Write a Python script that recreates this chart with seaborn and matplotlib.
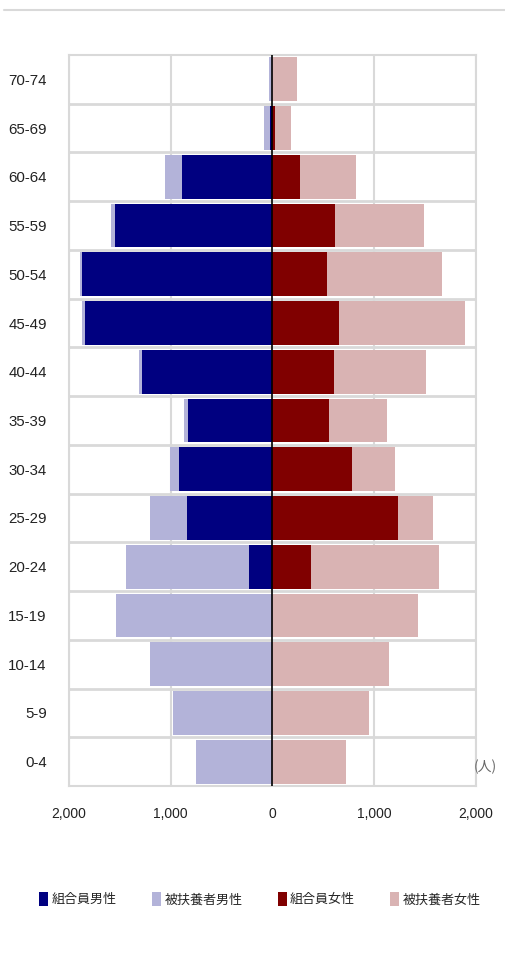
import matplotlib
matplotlib.use("Agg")
import matplotlib.pyplot as plt
import seaborn as sns
import pandas as pd
import numpy as np
from matplotlib.patches import Patch

age_groups = ["70-74", "65-69", "60-64", "55-59", "50-54", "45-49", "40-44",
              "35-39", "30-34", "25-29", "20-24", "15-19", "10-14", "5-9", "0-4"]
member_male = [0, 27, 885, 1551, 1869, 1846, 1285, 833, 915, 839, 233, 0, 0, 0, 0]
dependent_male = [33, 58, 171, 39, 26, 26, 26, 33, 88, 364, 1206, 1534, 1207, 974, 754]
member_female = [0, 22, 275, 613, 534, 656, 603, 554, 780, 1233, 377, 0, 0, 0, 0]
dependent_female = [239, 161, 545, 872, 1132, 1233, 905, 571, 423, 344, 1262, 1433, 1144, 944, 721]
legend_labels = ["組合員男性", "被扶養者男性", "組合員女性", "被扶養者女性"]
x_ticks = [-2000, -1000, 0, 1000, 2000]
unit_label = "(人)"

c_mm, c_dm, c_mf, c_df = "#000080", "#B3B3D9", "#800000", "#D9B3B3"

df = pd.DataFrame({
    "age": age_groups,
    "male_total": -(np.array(member_male) + np.array(dependent_male)),
    "male_member": -np.array(member_male),
    "female_total": np.array(member_female) + np.array(dependent_female),
    "female_member": np.array(member_female),
})

sns.set_style("white")
plt.rcParams["font.family"] = ["Noto Sans CJK JP", "DejaVu Sans"]
num_font = ["Liberation Sans", "DejaVu Sans"]

fig = plt.figure(figsize=(5.06, 9.55), dpi=100)
ax = fig.add_axes([69/506, 1 - 786/955, (476-69)/506, (786-55)/955])

kw = dict(data=df, y="age", orient="h", width=0.9, ax=ax, linewidth=0,
          order=age_groups, saturation=1)
sns.barplot(x="male_total", color=c_dm, **kw)
sns.barplot(x="male_member", color=c_mm, **kw)
sns.barplot(x="female_total", color=c_df, **kw)
sns.barplot(x="female_member", color=c_mf, **kw)

ax.set_xlim(-2000, 2000)
ax.set_ylim(len(age_groups) - 0.5, -0.5)
ax.set_xlabel("")
ax.set_ylabel("")

grid_c = "#D9D9D9"
for xv in x_ticks:
    if xv != 0:
        ax.axvline(xv, color=grid_c, lw=1.5, zorder=0)
for i in range(len(age_groups) - 1):
    ax.axhline(i + 0.5, color=grid_c, lw=2, zorder=0.5)
ax.axvline(0, color="black", lw=1.2, zorder=5)
for s in ax.spines.values():
    s.set_color(grid_c)
    s.set_linewidth(1.5)

ax.set_xticks(x_ticks)
ax.set_xticklabels([f"{abs(v):,}" for v in x_ticks], fontfamily=num_font, fontsize=10)
ax.set_yticks(range(len(age_groups)))
ax.set_yticklabels(age_groups, fontfamily=num_font, fontsize=10.8)
ax.tick_params(axis="x", length=0, pad=15, colors="#222222")
ax.tick_params(axis="y", length=0, pad=16, colors="#222222")

fig.text(474/506, 1 - 767/955, unit_label, ha="left", va="center",
         fontsize=10, color="#666666")

# top rule
fig.add_artist(plt.Line2D([4/506, 1], [1 - 10/955, 1 - 10/955], color="#D9D9D9", lw=1.5))

handles = [Patch(facecolor=c, edgecolor="none") for c in (c_mm, c_dm, c_mf, c_df)]
leg = fig.legend(handles, legend_labels, loc="center",
                 bbox_to_anchor=(0.5 + 7/506, 1 - 899/955),
                 ncol=4, frameon=False, fontsize=9.4, handlelength=0.7, handleheight=1.3,
                 handletextpad=0.25, columnspacing=2.7)
for t in leg.get_texts():
    t.set_color("#262626")

fig.savefig("out.png", dpi=100, facecolor="white")
